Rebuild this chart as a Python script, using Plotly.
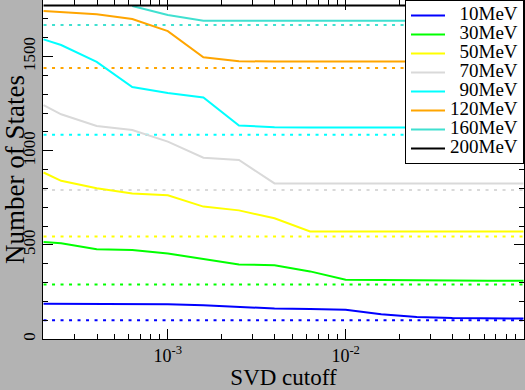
import plotly.graph_objects as go

# SVD cutoff values (log grid)
cutoff = [2.0e-4, 2.512e-4, 3.981e-4, 6.310e-4, 1.0e-3, 1.585e-3, 2.512e-3,
          3.981e-3, 6.310e-3, 1.0e-2, 1.585e-2, 2.512e-2, 3.981e-2, 6.310e-2, 1.0e-1]

energies = ["10MeV", "30MeV", "50MeV", "70MeV", "90MeV", "120MeV", "160MeV", "200MeV"]
colors = ["#0000ff", "#00ff00", "#ffff00", "#d9d9d9", "#00ffff", "#ffa500", "#40e0d0", "#000000"]

states_10 = [187, 187, 187, 186, 185, 179, 169, 162, 159, 155, 132, 117, 111, 109, 109]
states_30 = [515, 509, 477, 472, 454, 426, 396, 391, 359, 315, 312, 311, 310, 309, 309]
states_50 = [884, 840, 800, 773, 763, 703, 683, 641, 571, 571, 571, 571, 571, 571, 571]
states_70 = [1242, 1193, 1131, 1110, 1048, 963, 951, 826, 826, 826, 826, 826, 826, 826, 826]
states_90 = [1591, 1561, 1471, 1338, 1306, 1282, 1134, 1124, 1123, 1123, 1123, 1123, 1123, 1123, 1123]
states_120 = [1742, 1736, 1724, 1699, 1635, 1496, 1475, 1473, 1473, 1473, 1473, 1473, 1473, 1473, 1473]
states_160 = [None, None, None, 1768, 1720, 1690, 1690, 1690, 1690, 1690, 1690, 1690, 1690, 1690, 1690]
states_200 = [1771] * 15

# reference (dotted) levels
reference_levels = [99, 290, 544, 791, 1084, 1439, 1667, None]

series = [states_10, states_30, states_50, states_70, states_90, states_120, states_160, states_200]

x_ticks = [1e-3, 1e-2]
x_ticktext = ["10<sup>-3</sup>", "10<sup>-2</sup>"]
x_minor = [m * 10.0 ** e for e in (-4, -3, -2) for m in range(2, 10)]
y_ticks = [0, 500, 1000, 1500]

SERIF = "Liberation Serif"

fig = go.Figure()

for name, col, lvl in zip(energies, colors, reference_levels):
    if lvl is None:
        continue
    fig.add_trace(go.Scatter(
        x=[cutoff[0], cutoff[-1]], y=[lvl, lvl], mode="lines",
        line=dict(color=col, width=2, dash="3px,5.5px"),
        showlegend=False, hoverinfo="skip"))

for name, col, ys in zip(energies, colors, series):
    pad = "\u2007" if len(name) == 5 else ""
    label = '<span style="font-size:19px">' + pad + name + "</span>"
    fig.add_trace(go.Scatter(
        x=cutoff, y=ys, mode="lines", name=label,
        line=dict(color=col, width=2), connectgaps=False))

fig.update_layout(
    width=525, height=390,
    paper_bgcolor="#b3b3b3", plot_bgcolor="#ffffff",
    margin=dict(l=43, r=1, t=0, b=51),
    font=dict(family=SERIF, color="#000000"),
    showlegend=True,
    legend=dict(x=1, y=1, xanchor="right", yanchor="top",
                bgcolor="#ffffff", bordercolor="#000000", borderwidth=1,
                font=dict(family=SERIF, size=11.8, color="#000000"),
                tracegroupgap=0, itemwidth=34),
)

fig.update_xaxes(
    type="log", range=[-3.702, -0.997],
    showline=True, linecolor="#000000", linewidth=1, mirror="ticks",
    ticks="inside", ticklen=10, tickwidth=1, tickcolor="#000000",
    tickmode="array", tickvals=x_ticks, ticktext=x_ticktext,
    tickfont=dict(family=SERIF, size=18),
    minor=dict(ticks="inside", ticklen=5, tickwidth=1, tickcolor="#000000",
               tickmode="array", tickvals=x_minor, showgrid=False),
    showgrid=False, zeroline=False, automargin=False,
    title=dict(text="SVD cutoff", font=dict(family=SERIF, size=23), standoff=2),
)

fig.update_yaxes(
    range=[0, 1800],
    showline=True, linecolor="#000000", linewidth=1, mirror="ticks",
    ticks="inside", ticklen=10, tickwidth=1, tickcolor="#000000",
    tickmode="array", tickvals=y_ticks, tickangle=-90,
    tickfont=dict(family=SERIF, size=17),
    minor=dict(ticks="inside", ticklen=5, tickwidth=1, tickcolor="#000000",
               dtick=100, showgrid=False),
    showgrid=False, zeroline=False, automargin=False,
    title=dict(text="Number of States", font=dict(family=SERIF, size=27), standoff=1),
)

fig.write_html("out.html", config={"displayModeBar": False},
               post_script="document.body.style.margin='0';document.body.style.overflow='hidden';")
